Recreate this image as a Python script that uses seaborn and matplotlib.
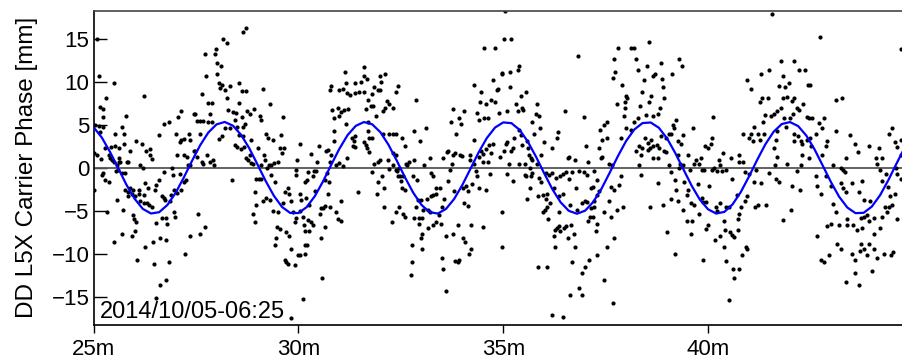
# DD L5X carrier phase residuals with fitted periodic term
import numpy as np
import pandas as pd
import matplotlib
matplotlib.use("Agg")
import matplotlib.pyplot as plt
import seaborn as sns

# data: time [min], DD phase [mm], in six time slices
dots_25_28 = [
    (25.07, 15.0), (25.12, 10.7), (25.49, 9.9), (25.30, 8.1), (25.16, 7.1), (25.24, 6.9), (25.80, 6.1),
    (25.22, 5.9), (25.04, 5.0), (25.12, 4.9), (25.23, 4.8), (25.15, 4.2), (25.53, 4.0), (25.75, 4.0),
    (25.69, 4.8), (26.24, 8.4), (26.71, 5.1), (26.85, 5.3), (27.13, 6.6), (27.07, 5.9), (27.02, 4.0),
    (27.13, 3.2), (27.21, 3.4), (27.10, 3.0), (27.36, 3.2), (27.32, 4.0), (27.44, 6.3), (27.48, 6.3),
    (27.52, 5.5), (27.59, 5.5), (27.67, 5.5), (27.85, 6.3), (27.80, 5.3), (27.89, 5.3), (27.64, 8.6),
    (27.74, 10.7), (27.73, 13.3), (27.80, 7.6), (27.90, 7.6), (27.97, 13.3), (27.99, 13.8), (28.15, 15.0),
    (28.25, 14.6), (28.02, 12.2), (28.11, 11.9), (28.05, 9.9), (28.13, 9.7), (28.02, 10.9), (28.20, 9.1),
    (28.09, 9.3), (28.25, 8.1), (28.29, 6.8), (28.14, 3.7), (28.07, 3.4), (28.21, 4.6),
    (25.02, 1.7), (25.07, 1.5), (25.18, 1.0), (25.28, 2.3), (25.37, 1.5), (25.42, 2.4), (25.51, 2.6),
    (25.39, 1.2), (25.45, 0.9), (25.50, 0.7), (25.57, 0.3), (25.61, 0.7), (25.65, 0.7), (25.63, 1.2),
    (25.61, 2.3), (25.75, 2.8), (25.88, 2.0), (25.81, 0.7), (25.85, 0.7), (26.04, 3.1), (26.18, 2.8),
    (26.28, 2.0), (26.37, 2.2), (26.38, 1.5), (26.42, 1.0), (26.14, 0.3), (26.20, 0.0), (26.59, 3.8),
    (27.03, 1.5), (27.20, 1.5), (27.28, 1.3), (27.44, 2.0), (27.48, 2.0), (27.52, 1.3), (27.30, 0.3),
    (27.36, 0.3), (27.59, 4.0), (27.64, 0.7), (27.76, 1.5), (27.85, 0.7), (27.91, 0.9), (27.94, 0.3),
    (27.68, 0.5),
    (25.00, -2.6), (25.28, -1.4), (25.37, -1.6), (25.24, -0.6), (25.20, -0.8), (25.55, -0.4), (25.59, -0.2),
    (25.69, -0.6), (25.76, -0.6), (25.57, -3.7), (25.77, -2.6), (25.85, -2.8), (25.84, -3.3), (25.89, -2.4),
    (25.96, -2.6), (25.93, -3.0), (26.02, -3.3), (26.10, -2.6), (26.10, -3.0), (26.22, -3.2), (26.14, -3.9),
    (26.24, -4.1), (26.30, -4.1), (26.34, -4.3), (26.42, -4.6), (26.26, -1.8), (26.32, -2.4), (26.50, -2.6),
    (26.53, -2.0), (26.59, -1.4), (26.72, -0.5), (26.91, 0.0), (26.93, -0.8), (26.67, -3.3), (26.71, -3.5),
    (26.75, -3.7), (26.87, -3.9), (26.95, -2.6), (27.03, -2.9), (27.13, -2.6), (26.89, -3.2), (27.11, -0.7),
    (27.20, -1.6), (27.26, -1.4),
    (25.72, -4.9), (25.33, -5.1), (25.96, -5.5), (25.98, -6.0), (26.04, -6.3), (26.52, -6.4), (26.67, -5.9),
    (26.77, -5.8), (26.80, -6.5), (26.98, -5.7), (26.95, -5.2), (27.54, -5.4), (25.69, -7.7), (25.93, -7.9),
    (26.02, -7.4), (25.50, -8.7), (26.46, -8.7), (26.61, -8.2), (26.77, -8.4), (26.26, -9.2), (26.06, -10.7),
    (26.48, -11.2), (26.83, -11.0), (27.24, -10.0), (27.36, -7.9), (27.59, -7.7), (27.72, -6.9),
    (26.63, -13.6), (26.77, -13.1), (26.53, -15.2),
]

dots_28_31 = [
    (28.65, 15.8), (28.73, 16.3), (28.34, 9.6), (28.56, 9.9), (28.62, 9.0), (28.73, 9.0), (29.13, 9.2),
    (29.30, 7.4), (28.56, 7.6), (28.40, 6.5), (28.48, 6.4), (28.61, 5.9), (28.75, 6.6), (28.81, 6.3),
    (28.91, 6.9), (29.05, 6.1), (29.08, 5.6), (28.44, 5.6), (28.32, 4.6), (28.51, 4.8), (28.65, 4.8),
    (28.69, 5.1), (28.56, 3.8), (28.65, 3.7), (28.83, 3.3), (28.46, 2.7), (28.51, 2.4), (28.59, 2.2),
    (28.67, 2.4), (29.62, 5.9), (29.58, 3.8), (29.21, 4.0), (29.26, 3.5), (29.38, 3.3), (29.54, 2.3),
    (29.61, 1.7), (29.65, 2.3), (30.03, 2.8), (29.97, 0.9), (28.73, 1.1), (28.77, 0.9), (28.85, 0.6),
    (28.89, 0.4), (28.81, 1.5), (29.01, 2.3), (29.16, 1.5), (29.19, 0.9), (29.24, 0.0), (29.27, 0.3),
    (29.32, 0.3), (29.40, 0.6), (29.50, 0.7), (29.09, 0.3), (28.38, -1.4), (28.97, -1.3), (29.03, -1.3),
    (29.09, -1.3), (29.42, -1.6), (29.34, -0.8), (29.93, -0.2), (29.95, -0.8), (30.23, -0.5), (30.21, -1.4),
    (30.35, -1.0), (30.39, -0.4), (30.43, -0.4), (30.46, 0.7), (30.49, 2.5), (30.30, 1.6), (30.72, 2.1),
    (30.68, 2.0), (30.76, 9.1), (30.80, 9.6), (30.98, 9.1), (31.08, 9.2), (31.17, 9.9), (31.37, 9.9),
    (31.14, 11.2), (31.19, 8.7), (31.25, 8.5), (31.37, 8.7), (31.47, 8.9), (31.52, 10.0), (30.82, 6.8),
    (30.96, 7.0), (31.04, 6.5), (31.11, 6.8), (31.22, 6.9), (30.88, 5.8), (30.98, 6.0), (31.17, 5.1),
    (30.87, 4.3), (31.30, 3.5), (31.37, 3.7), (31.33, 2.5), (31.39, 2.4), (31.35, 3.1), (30.87, 3.1),
    (30.80, 1.5), (30.92, 0.3), (31.00, 0.6), (31.08, 0.2), (30.76, 0.7), (31.19, 1.1),
    (30.70, -0.6), (30.74, -1.6), (30.64, -1.4), (31.04, -3.9), (30.92, -5.1), (30.96, -6.0), (31.03, -6.2),
    (31.45, -2.8), (30.56, -4.7), (30.60, -4.7), (30.65, -4.4), (30.76, -4.6), (30.52, -5.4), (30.72, -3.0),
    (30.41, -2.7), (30.15, -1.6), (30.03, -3.0), (30.07, -3.7), (30.19, -3.5), (30.27, -4.3), (29.74, -2.4),
    (29.76, -3.0), (29.66, -2.8), (29.62, -4.1), (29.82, -3.9), (29.87, -5.1), (29.95, -5.9), (29.91, -6.3),
    (30.03, -5.0), (30.11, -5.7), (30.13, -6.7), (30.23, -6.1), (30.31, -6.3), (30.15, -7.4), (30.27, -7.4),
    (30.35, -6.7), (29.48, -6.9), (29.54, -7.1), (29.70, -7.5), (29.78, -7.9), (29.46, -8.2), (29.42, -9.0),
    (30.15, -9.0), (30.21, -9.0), (29.99, -10.2), (30.05, -10.2), (30.17, -10.0), (29.66, -10.7),
    (29.70, -11.0), (29.74, -11.2), (29.91, -11.3), (29.81, -9.5), (30.64, -6.9), (30.56, -8.2),
    (30.58, -12.8), (30.11, -15.3), (29.82, -17.5), (28.95, -2.8), (29.13, -3.9), (28.97, -4.3),
    (29.21, -3.5), (29.30, -3.7), (28.89, -5.4), (28.93, -6.3), (29.38, -5.0), (29.50, -5.1),
]

dots_31_35 = [
    (31.59, 11.7), (31.61, 10.7), (31.67, 10.4), (31.61, 8.9), (31.69, 7.9), (31.80, 8.6), (31.85, 9.4),
    (31.94, 9.1), (31.99, 9.1), (32.02, 10.0), (31.99, 10.7), (32.12, 10.9), (32.42, 9.6), (32.38, 8.9),
    (32.87, 7.9), (31.77, 7.2), (31.81, 7.2), (31.65, 6.9), (31.90, 6.1), (32.06, 6.6), (32.12, 7.0),
    (32.16, 7.8), (32.20, 7.5), (32.30, 7.0), (31.69, 5.3), (31.69, 4.3), (31.73, 3.5), (31.80, 3.5),
    (31.64, 2.7), (31.67, 2.3), (31.72, 1.8), (31.59, 3.0), (32.06, 3.9), (32.20, 4.0), (32.32, 3.9),
    (32.37, 3.9), (32.53, 3.5), (32.59, 2.5), (32.32, 1.7), (32.37, 1.5), (32.81, 4.3), (32.98, 3.1),
    (33.11, 4.6), (31.85, 0.4), (31.98, 0.9), (31.94, 0.7), (32.18, 0.9), (32.22, -0.1), (32.30, 0.3),
    (32.38, -0.2), (32.46, 0.0), (31.80, -0.5), (32.63, 0.5), (32.71, 0.7), (32.83, 0.9), (32.64, 0.3),
    (33.06, 0.3), (33.20, 1.2), (31.94, -1.6), (32.04, -1.0), (31.91, -3.1), (32.10, -2.4), (32.42, -1.0),
    (32.48, -1.0), (32.50, -1.5), (32.41, -0.4), (32.56, -1.0), (32.53, -2.4), (32.61, -2.6), (32.79, -1.0),
    (32.90, -1.4), (32.10, -4.6), (32.28, -6.3), (32.38, -5.1), (32.45, -4.6), (32.56, -5.4), (32.60, -5.7),
    (32.83, -5.9), (32.94, -5.9), (32.95, -6.5), (33.02, -5.9), (32.87, -4.6), (32.91, -3.7), (32.99, -3.7),
    (33.14, -3.6), (33.03, -4.9), (33.16, -4.9), (33.20, -5.1), (33.24, -3.3), (33.29, -3.2), (33.37, -3.1),
    (33.46, -2.4), (33.36, -2.4), (33.24, -0.6), (33.28, -1.0), (33.16, -7.0), (33.28, -6.7), (33.37, -6.3),
    (33.48, -6.5), (33.44, -5.5), (33.50, -4.6), (33.56, -3.6), (32.77, -9.0), (33.02, -7.7), (32.99, -8.2),
    (33.02, -9.5), (32.77, -11.0), (32.75, -12.5), (33.50, -10.5), (33.54, -11.8), (33.60, -14.4),
    (33.60, -7.9), (33.78, -7.7), (33.89, -6.7), (33.83, -10.9), (33.89, -11.0), (33.91, -10.7),
    (34.01, -8.2), (34.07, -8.7), (34.16, -10.0), (34.21, -9.5), (34.21, -6.7), (34.51, -6.9),
    (33.64, -1.5), (33.70, -0.2), (33.75, 0.4), (33.78, 1.5), (33.83, 1.7), (33.52, 1.1), (33.62, 1.8),
    (33.64, 2.0), (33.72, 5.4), (33.77, 6.9), (33.85, 4.0), (33.93, 5.8), (33.98, 5.1), (34.05, 6.6),
    (33.81, -2.7), (34.01, -2.4), (34.09, -2.1), (34.13, -2.7), (34.24, -1.9), (34.05, -4.1), (34.13, -4.4),
    (33.94, 1.5), (33.99, 1.4), (34.19, 1.5), (34.19, 0.9), (34.28, 3.2), (34.29, 9.7), (34.36, 6.4),
    (34.42, 5.6), (34.43, 7.7), (34.46, 8.9), (34.54, 5.8), (34.58, 7.4), (34.62, 5.8), (34.70, 7.9),
    (34.81, 7.7), (34.33, -0.4), (34.37, -1.0), (34.40, -2.4), (34.59, -2.6), (34.68, -0.7), (34.29, 0.5),
    (34.42, 1.3), (34.50, 1.6), (34.51, 0.7), (34.62, 0.7), (34.70, 1.7), (34.76, 2.8), (34.66, 2.7),
    (34.58, 2.2), (34.54, 14.0), (34.81, 14.0), (34.74, 10.3), (34.85, 9.1), (34.46, 2.0), (35.05, 18.3),
]

dots_35_38 = [
    (35.02, 15.0), (35.20, 15.0), (34.88, 9.2), (34.96, 11.1), (34.98, 10.9), (35.17, 11.2), (35.36, 11.4),
    (35.39, 11.9), (35.16, 9.4), (35.43, 8.4), (35.55, 8.9), (34.90, 6.4), (35.09, 6.6), (35.31, 7.4),
    (35.36, 6.6), (35.45, 7.0), (35.49, 6.8), (35.82, 7.4), (35.79, 6.3), (35.88, 6.0), (35.89, 4.6),
    (35.75, 4.0), (35.71, 5.4), (36.51, 6.6), (36.96, 5.9), (36.83, 13.0), (35.27, 3.5), (35.39, 4.4),
    (35.43, 3.8), (35.47, 2.7), (35.01, 2.0), (35.06, 2.8), (35.10, 3.0), (35.19, 2.0), (35.25, 2.3),
    (34.93, 1.3), (35.58, 3.1), (35.61, 2.3), (35.63, 1.5), (35.67, 1.1), (35.71, 0.9), (35.93, 1.5),
    (35.99, 3.0), (36.20, 2.3), (36.31, 3.5), (36.34, 4.2), (35.14, 0.5), (35.39, 0.5), (35.53, 0.5),
    (35.66, 0.0), (35.09, -0.7), (35.25, -1.5), (35.53, -0.8), (35.55, -1.0), (35.67, -1.0), (35.71, -0.6),
    (35.82, 0.4), (36.58, 1.1), (36.61, 1.3), (36.75, 0.9), (37.01, 2.5), (37.07, 0.7), (36.96, -0.5),
    (35.88, -1.2), (35.92, -1.6), (36.04, -0.6), (36.12, -0.8), (36.20, -0.6), (36.28, -1.2), (36.39, -1.0),
    (36.45, -0.7), (36.53, -0.5), (36.61, -1.3), (36.69, -0.5), (36.85, -0.4), (35.66, -2.4), (35.84, -3.3),
    (35.96, -3.2), (36.04, -3.6), (36.08, -3.1), (36.14, -4.1), (35.57, -3.6), (35.98, -5.1), (36.01, -4.9),
    (36.06, -4.6), (36.10, -6.0), (36.24, -2.4), (36.36, -3.3), (36.47, -3.1), (36.36, -5.1), (36.63, -4.3),
    (36.81, -4.9), (36.77, -2.4), (36.99, -3.9), (37.04, -0.8), (37.14, -2.4), (37.18, -2.2), (37.22, -0.4),
    (37.28, -1.4), (36.93, -4.1), (37.04, -4.0), (37.12, -5.7), (37.20, -5.7), (37.14, -4.7), (37.22, -3.9),
    (37.22, -4.6), (37.06, -6.2), (37.30, -6.5), (37.26, -7.4), (36.26, -7.2), (36.31, -7.0), (36.39, -7.4),
    (36.36, -6.8), (36.49, -7.0), (36.53, -6.8), (36.57, -8.2), (36.66, -6.7), (36.73, -7.7), (36.24, -8.0),
    (36.26, -9.2), (36.75, -9.2), (34.98, -5.1), (34.96, -9.2), (35.85, -11.5), (36.06, -11.5),
    (36.69, -11.0), (36.99, -11.5), (36.93, -12.3), (37.10, -10.7), (37.30, -10.2), (36.85, -14.0),
    (36.63, -14.8), (36.92, -14.8), (36.20, -17.1), (36.45, -17.4), (37.45, -13.1), (37.67, -15.8),
    (37.53, -9.2), (37.71, -8.2), (37.36, 4.4), (37.40, 3.3), (37.46, 5.0), (37.54, 5.3), (37.54, 3.5),
    (37.34, 2.3), (37.38, 1.1), (37.42, 1.3), (37.58, 0.4), (37.66, 0.3), (37.87, -1.0), (37.83, -2.0),
    (37.71, -2.6), (37.62, -2.2), (37.77, -4.9), (37.93, -4.6), (37.46, -5.1), (37.64, -5.7), (37.58, -3.9),
    (37.69, 10.5), (37.72, 11.2), (37.71, 12.7), (37.80, 14.0), (37.91, 9.7), (37.99, 8.4), (38.03, 8.1),
    (37.97, 7.7), (37.97, 7.0), (37.95, 6.1), (37.77, 7.4), (37.99, 4.6), (37.87, 3.5), (38.11, 4.4),
    (38.13, 14.0), (37.34, -2.7), (37.30, -3.2),
]

dots_38_41 = [
    (38.55, 14.7), (38.20, 14.0), (38.24, 12.7), (38.28, 11.4), (38.50, 11.9), (38.66, 10.7), (38.71, 10.9),
    (38.44, 10.2), (38.40, 8.9), (38.34, 7.2), (38.55, 7.7), (38.61, 8.4), (38.49, 6.2), (38.28, 5.8),
    (38.20, 5.3), (38.88, 10.4), (38.91, 9.4), (38.85, 12.2), (38.93, 8.1), (38.83, 7.0), (38.77, 6.3),
    (38.65, 6.1), (39.12, 10.9), (39.28, 12.7), (39.36, 11.9), (39.22, 5.6), (39.15, 5.0), (39.18, 4.6),
    (39.05, 4.0), (39.09, 3.9), (38.97, 3.5), (38.85, 3.7), (38.75, 2.7), (38.81, 2.3), (38.65, 2.5),
    (38.61, 3.2), (38.53, 2.9), (38.47, 3.5), (38.40, 2.3), (38.32, 2.5), (38.23, 2.0), (38.36, 1.5),
    (38.53, 2.1), (38.58, 2.3), (38.66, 1.2), (38.79, 1.2), (38.93, 2.0), (38.97, 1.8), (39.26, 3.1),
    (39.34, 2.8), (39.40, 3.8), (39.64, 4.6), (39.26, 1.5), (39.31, 0.5), (39.38, 0.3), (39.50, 1.5),
    (39.05, 0.3), (38.31, 0.3), (38.36, -0.8), (38.79, -1.8), (38.58, -4.6), (38.91, -4.3), (39.09, -3.6),
    (39.09, -0.5), (39.20, -1.4), (39.22, -2.6), (39.30, 0.0), (39.42, -1.6), (39.50, -2.6), (39.48, -3.2),
    (39.56, -0.2), (39.66, 0.4), (39.70, 0.9), (39.77, 0.5), (39.83, 1.2), (39.85, -0.3), (39.91, -0.3),
    (39.93, 2.6), (39.99, 2.3), (40.07, 2.8), (40.09, 3.5), (40.11, 5.9), (39.38, -4.9), (39.48, -6.2),
    (39.62, -6.2), (39.58, -7.7), (39.26, -3.9), (39.58, -4.1), (39.66, -4.3), (39.75, -1.9), (39.85, -3.5),
    (39.88, -4.0), (39.79, -5.4), (39.96, -4.0), (40.03, -2.1), (40.09, -0.2), (40.15, 0.0), (40.23, -0.4),
    (40.26, 0.9), (40.29, 0.3), (40.34, -0.4), (40.36, 1.7), (40.44, -0.2), (40.56, 1.2), (40.19, -4.6),
    (40.23, -5.0), (40.29, -4.1), (40.44, -4.6), (40.50, -4.6), (40.40, -6.2), (40.58, -1.3), (39.87, -10.7),
    (40.01, -6.7), (39.96, -7.1), (40.18, -8.4), (40.29, -7.9), (40.40, -9.2), (40.45, -10.9),
    (40.52, -15.4), (40.62, -11.8), (40.64, -12.8), (40.75, -11.8), (40.42, -7.2), (40.53, -7.5),
    (40.58, -7.8), (40.64, -8.1), (40.72, -7.2), (40.72, -6.0), (40.76, -5.4), (40.80, -4.6), (40.91, -3.9),
    (40.96, -3.3), (40.70, -3.2), (40.84, -10.2), (40.92, -9.2), (40.96, -9.5), (40.76, 1.5), (40.76, 0.7),
    (40.86, 0.7), (40.91, -0.5), (40.86, 4.0), (41.05, 3.9), (40.99, 3.5), (41.13, 4.8), (41.09, 3.1),
    (41.21, 3.9), (41.27, 3.3), (41.37, 3.9), (41.35, 5.4), (41.40, 6.2), (40.96, 10.2), (41.05, 9.2),
    (41.29, 10.9), (41.31, 8.1), (41.27, 7.7), (41.01, -0.7), (41.13, -1.6), (41.17, -0.2), (41.29, -1.8),
    (41.15, -4.6), (41.21, -4.3), (41.41, -4.3), (39.01, -7.5), (39.20, -10.0),
]

dots_41_45 = [
    (41.55, 17.9), (42.73, 15.3), (44.70, 13.8), (41.78, 12.5), (42.10, 12.5), (41.49, 11.4), (42.22, 11.4),
    (42.36, 11.4), (41.84, 10.7), (41.73, 9.6), (41.87, 9.4), (41.98, 9.9), (42.44, 9.7), (42.49, 9.7),
    (41.47, 8.1), (41.82, 8.1), (41.94, 8.3), (42.10, 8.1), (42.06, 7.8), (42.33, 7.5), (42.18, 7.0),
    (41.79, 7.0), (41.69, 6.6), (41.60, 6.3), (41.53, 6.0), (41.86, 5.8), (42.00, 5.8), (42.08, 6.3),
    (42.22, 6.7), (42.41, 5.9), (42.47, 5.8), (42.55, 5.8), (42.71, 5.2), (42.82, 5.8), (42.79, 4.6),
    (41.90, 4.8), (42.10, 4.0), (41.68, 4.3), (41.65, 3.3), (41.60, 2.3), (41.68, 1.3), (42.10, 3.1),
    (42.20, 3.7), (42.28, 3.1), (42.30, 2.8), (42.41, 3.3), (42.49, 3.5), (42.63, 3.9), (42.52, 2.6),
    (42.30, 1.5), (42.47, 1.1), (41.94, 0.5), (42.26, 0.3), (42.18, -0.4), (41.63, 0.3), (42.87, 2.6),
    (42.91, 3.1), (43.12, 4.3), (43.12, 7.9), (43.28, 8.1), (42.79, 1.5), (43.04, 0.3), (43.24, 0.0),
    (43.30, -0.2), (43.34, -0.5), (41.49, -0.6), (41.65, -1.3), (41.73, -1.6), (42.06, -2.1), (42.25, -2.6),
    (42.63, -1.0), (42.67, -2.1), (42.77, -3.1), (42.87, -1.0), (42.99, -2.1), (43.24, -1.8), (43.30, -2.4),
    (43.38, -2.8), (43.52, -1.8), (43.69, -2.8), (43.81, -3.7), (43.95, -3.9), (43.77, -1.5), (42.02, -4.9),
    (41.82, -6.1), (43.04, -4.2), (43.12, -5.1), (42.91, -6.8), (42.99, -6.5), (43.20, -6.7), (43.40, -6.0),
    (43.40, -6.7), (43.55, -6.7), (43.63, -7.2), (43.73, -5.8), (43.77, -7.0), (43.81, -5.7), (43.87, -5.5),
    (43.93, -6.2), (44.04, -5.8), (44.20, -7.0), (44.25, -5.7), (44.31, -4.6), (44.42, -4.6), (42.67, -8.0),
    (42.77, -10.7), (42.82, -11.0), (42.95, -10.2), (43.14, -8.9), (43.24, -9.5), (43.52, -10.0),
    (43.58, -10.7), (43.71, -9.7), (43.74, -8.9), (43.82, -9.5), (43.89, -10.2), (43.93, -8.9),
    (44.05, -9.5), (44.13, -10.5), (44.30, -10.0), (44.46, -10.2), (44.52, -9.8), (43.60, -12.3),
    (43.38, -13.3), (43.69, -13.7), (44.01, -12.0), (44.04, -7.7), (43.93, 2.6), (44.17, 2.3), (44.09, 1.1),
    (44.25, 1.2), (44.13, 0.4), (44.21, -0.2), (44.34, -0.7), (44.42, 3.9), (44.50, 4.6), (44.56, 3.0),
    (44.62, 2.4), (44.70, 3.3), (44.72, 1.5), (44.58, 0.0), (44.62, -0.7), (44.70, -1.3), (43.60, 2.8),
    (43.66, 1.8), (43.47, 3.8), (43.36, 1.2), (44.44, -3.3), (44.56, -3.1), (44.50, -4.3), (44.38, -5.1),
    (44.62, -6.0), (44.25, -1.5), (44.39, -2.2),
]

# fitted periodic term (blue curve), read every 0.2 min
fit_t = [25.0, 25.2, 25.4, 25.6, 25.8, 26.0, 26.2, 26.4, 26.6, 26.8,
         27.0, 27.2, 27.4, 27.6, 27.8, 28.0, 28.2, 28.4, 28.6, 28.8,
         29.0, 29.2, 29.4, 29.6, 29.8, 30.0, 30.2, 30.4, 30.6, 30.8,
         31.0, 31.2, 31.4, 31.6, 31.8, 32.0, 32.2, 32.4, 32.6, 32.8,
         33.0, 33.2, 33.4, 33.6, 33.8, 34.0, 34.2, 34.4, 34.6, 34.8,
         35.0, 35.2, 35.4, 35.6, 35.8, 36.0, 36.2, 36.4, 36.6, 36.8,
         37.0, 37.2, 37.4, 37.6, 37.8, 38.0, 38.2, 38.4, 38.6, 38.8,
         39.0, 39.2, 39.4, 39.6, 39.8, 40.0, 40.2, 40.4, 40.6, 40.8,
         41.0, 41.2, 41.4, 41.6, 41.8, 42.0, 42.2, 42.4, 42.6, 42.8,
         43.0, 43.2, 43.4, 43.6, 43.8, 44.0, 44.2, 44.4, 44.6, 44.8]
fit_v = [4.73, 3.53, 1.86, -0.05, -1.96, -3.60, -4.78, -5.32, -5.17, -4.33,
         -2.93, -1.14, 0.80, 2.63, 4.12, 5.07, 5.35, 4.92, 3.85, 2.28,
         0.40, -1.53, -3.25, -4.56, -5.26, -5.27, -4.58, -3.30, -1.58, 0.35,
         2.23, 3.82, 4.90, 5.34, 5.08, 4.16, 2.68, 0.85, -1.09, -2.88,
         -4.30, -5.15, -5.33, -4.80, -3.64, -2.01, -0.11, 1.81, 3.48, 4.70,
         5.30, 5.21, 4.43, 3.06, 1.30, -0.64, -2.49, -4.01, -5.01, -5.35,
         -4.99, -3.96, -2.42, -0.56, 1.37, 3.13, 4.47, 5.22, 5.29, 4.67,
         3.43, 1.73, -0.18, -2.08, -3.70, -4.83, -5.33, -5.13, -4.25, -2.82,
         -1.01, 0.93, 2.75, 4.20, 5.11, 5.34, 4.87, 3.76, 2.16, 0.27,
         -1.65, -3.36, -4.62, -5.28, -5.24, -4.51, -3.19, -1.45, 0.48, 2.35]

x_ticks = [25, 30, 35, 40]
x_labels = ["25m", "30m", "35m", "40m"]
y_ticks = [-15, -10, -5, 0, 5, 10, 15]
epoch_label = "2014/10/05-06:25"

df = pd.DataFrame(dots_25_28 + dots_28_31 + dots_31_35 + dots_35_38 + dots_38_41 + dots_41_45,
                  columns=["t", "phase"])

sns.set_style("white")
plt.rcParams['font.family'] = ['Liberation Sans', 'DejaVu Sans']
plt.rcParams['text.color'] = 'black'
plt.rcParams['axes.labelcolor'] = 'black'
plt.rcParams['xtick.color'] = 'black'
plt.rcParams['ytick.color'] = 'black'

fig, ax = plt.subplots(figsize=(9.03, 3.62), dpi=100)
fig.subplots_adjust(left=0.1037, right=1.0, bottom=0.1022, top=0.9704)

ax.axhline(0, color="#555555", lw=1.3, zorder=1)
sns.scatterplot(data=df, x="t", y="phase", ax=ax, color="black", s=9, marker="o",
                linewidth=0, zorder=2)
sns.lineplot(x=fit_t, y=fit_v, ax=ax, color="#0000ff", lw=1.6, sort=False,
             estimator=None, zorder=3)

ax.set_xlim(25, 44.76)
ax.set_ylim(-18.32, 18.32)
ax.set_xticks(x_ticks)
ax.set_xticklabels(x_labels)
ax.set_yticks(y_ticks)
ax.tick_params(axis="y", direction="in", length=9.5, width=1, pad=3, labelsize=16, left=True)
ax.tick_params(axis="x", direction="out", length=6, width=1, pad=4, labelsize=16, bottom=True)
ax.set_xlabel("")
ax.set_ylabel("DD L5X Carrier Phase [mm]", fontsize=17.5, labelpad=10)

for side in ["left", "bottom"]:
    ax.spines[side].set_color("black")
    ax.spines[side].set_linewidth(1.2)
ax.spines["top"].set_color("#444444")
ax.spines["top"].set_linewidth(1.2)
ax.spines["right"].set_visible(False)

ax.text(0.008, 0.022, epoch_label, transform=ax.transAxes, fontsize=17,
        ha="left", va="baseline")

fig.savefig("out.png", dpi=100)
